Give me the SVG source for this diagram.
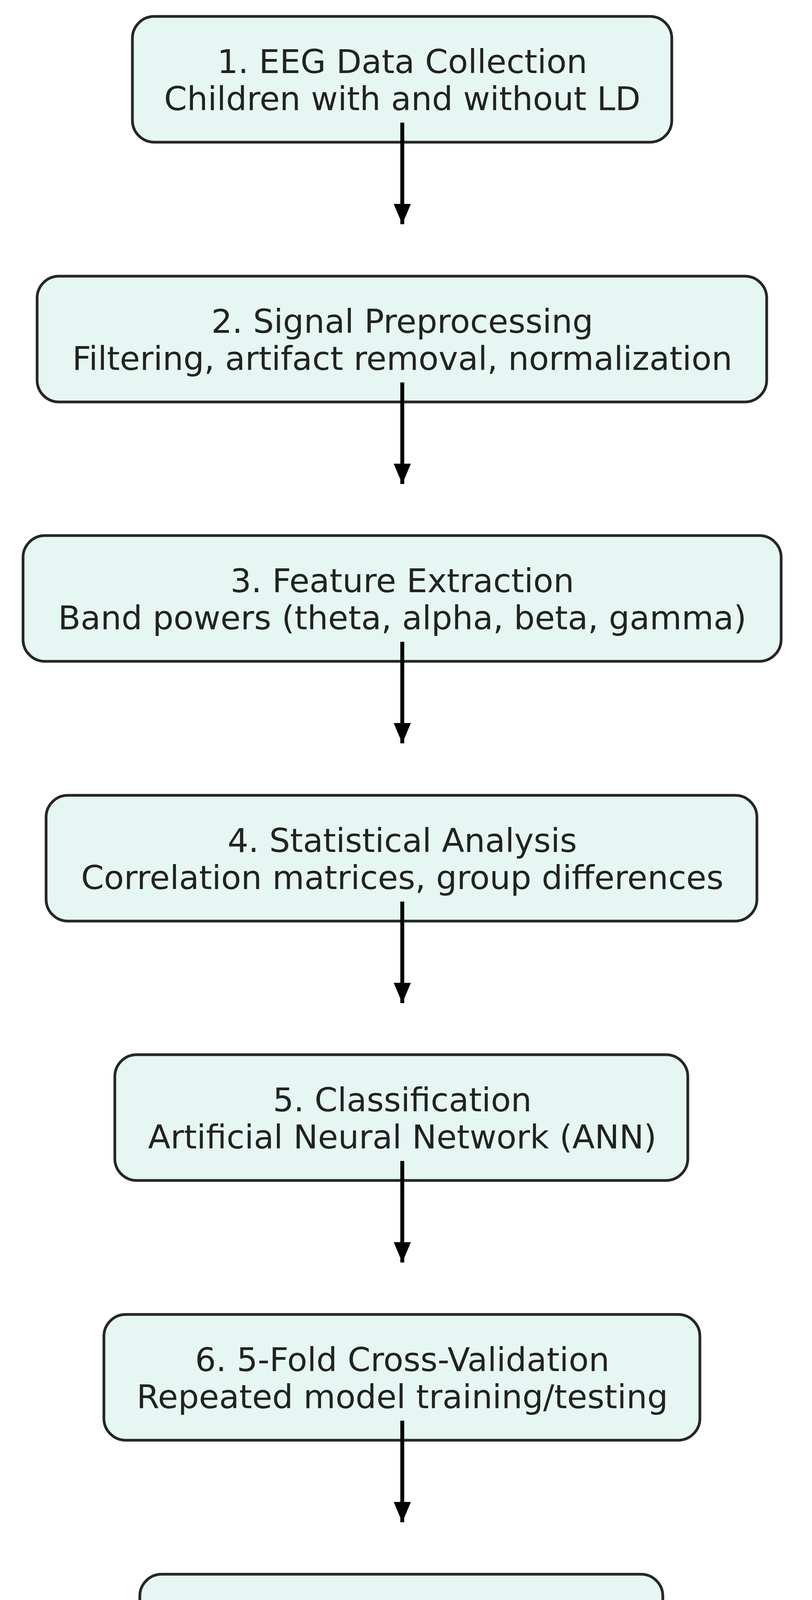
<svg xmlns="http://www.w3.org/2000/svg" width="2079" height="4451" viewBox="0 0 2079 4451">
<style>
.b{fill:#e6f6f2;stroke:#262626;stroke-width:7}
.t{font-family:"DejaVu Sans",sans-serif;font-size:84px;fill:#222;text-anchor:middle}
.c{stroke:#000;stroke-width:10;fill:none}
</style>
<defs><marker id="a" markerUnits="userSpaceOnUse" markerWidth="60" markerHeight="60" refX="52" refY="22" orient="auto"><path d="M0,0 L52,22 L0,44 Z" fill="#000"/></marker></defs>
<rect width="2079" height="4451" fill="#fff"/>
<g id="n1"><rect class="b" x="339" y="42" width="1381" height="322" rx="56"/><text class="t" x="1030" y="187">1. EEG Data Collection</text><text class="t" x="1030" y="282">Children with and without LD</text></g>
<g id="n2"><rect class="b" x="95" y="707" width="1868" height="322" rx="56"/><text class="t" x="1030" y="852">2. Signal Preprocessing</text><text class="t" x="1030" y="947">Filtering, artifact removal, normalization</text></g>
<g id="n3"><rect class="b" x="59" y="1371" width="1941" height="322" rx="56"/><text class="t" x="1030" y="1516">3. Feature Extraction</text><text class="t" x="1030" y="1611">Band powers (theta, alpha, beta, gamma)</text></g>
<g id="n4"><rect class="b" x="118" y="2036" width="1820" height="322" rx="56"/><text class="t" x="1030" y="2181">4. Statistical Analysis</text><text class="t" x="1030" y="2276">Correlation matrices, group differences</text></g>
<g id="n5"><rect class="b" x="294" y="2700" width="1467" height="322" rx="56"/><text class="t" x="1030" y="2845">5. Classification</text><text class="t" x="1030" y="2940">Artificial Neural Network (ANN)</text></g>
<g id="n6"><rect class="b" x="266" y="3365" width="1526" height="322" rx="56"/><text class="t" x="1030" y="3510">6. 5-Fold Cross-Validation</text><text class="t" x="1030" y="3605">Repeated model training/testing</text></g>
<g id="n7"><rect class="b" x="358" y="4030" width="1339" height="322" rx="56"/><text class="t" x="1030" y="4175">7. Evaluation</text><text class="t" x="1030" y="4270">Confusion Matrix, ROC, AUC</text></g>
<g id="edges">
<line class="c" x1="1030" y1="314" x2="1030" y2="574" marker-end="url(#a)"/>
<line class="c" x1="1030" y1="979" x2="1030" y2="1239" marker-end="url(#a)"/>
<line class="c" x1="1030" y1="1643" x2="1030" y2="1903" marker-end="url(#a)"/>
<line class="c" x1="1030" y1="2308" x2="1030" y2="2568" marker-end="url(#a)"/>
<line class="c" x1="1030" y1="2972" x2="1030" y2="3232" marker-end="url(#a)"/>
<line class="c" x1="1030" y1="3637" x2="1030" y2="3897" marker-end="url(#a)"/>
</g>
</svg>
